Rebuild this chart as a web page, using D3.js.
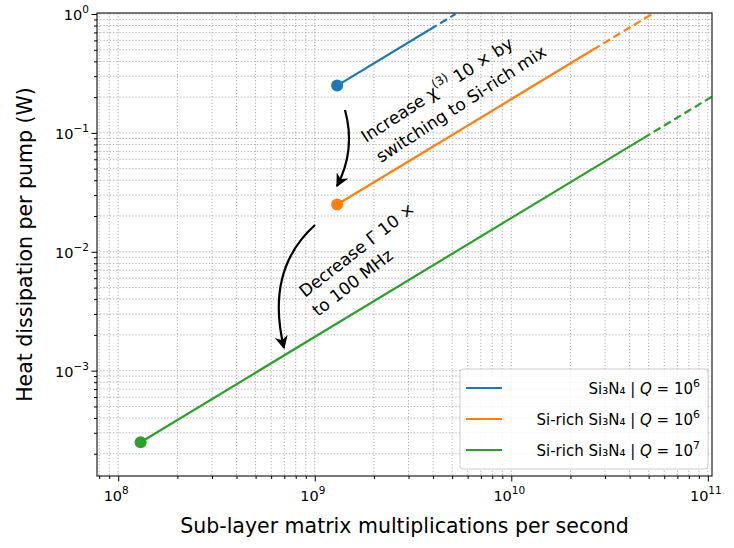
<!DOCTYPE html>
<html><head><meta charset="utf-8">
<script src="https://cdn.jsdelivr.net/npm/d3@7"></script>
<style>body{margin:0;background:#fff}text{font-family:"DejaVu Sans",sans-serif}</style>
</head><body><svg id="c" width="734" height="548"></svg>
<script>
const seriesNames=["Si₃N₄ | ","Si-rich Si₃N₄ | ","Si-rich Si₃N₄ | "];
const qExp=["6","6","7"];
const colors=["#1f77b4","#ff7f0e","#2ca02c"];
const startX=[1.3e9,1.3e9,1.3e8];
const startY=[0.25,0.025,0.00025];
const solidEndX=[3.85e9,2.6e10,4.7e10];
const endX=[5.2e9,5.2e10,1.05e11];
const xTicks=[1e8,1e9,1e10,1e11], xTickExp=["8","9","10","11"];
const yTicks=[1e-3,1e-2,1e-1,1], yTickLab=["10","10","10","10"], yTickExp=["−3","−2","−1","0"];

const svg=d3.select("#c");
const L=97,R=712,T=13,B=476;
const x=d3.scaleLog().domain([7.8e7,1.05e11]).range([L,R]);
const y=d3.scaleLog().domain([1.3e-4,1.02]).range([B,T]);
svg.append("clipPath").attr("id","cp").append("rect").attr("x",L).attr("y",T).attr("width",R-L).attr("height",B-T);
const g=svg.append("g").attr("clip-path","url(#cp)");
const xm=[];for(let e=7;e<=11;e++)for(let k=1;k<10;k++)xm.push(k*10**e);
const ym=[];for(let e=-4;e<=0;e++)for(let k=1;k<10;k++)ym.push(k*10**e);
g.selectAll(".gx").data(xm).join("line").attr("x1",d=>x(d)).attr("x2",d=>x(d)).attr("y1",T).attr("y2",B)
 .attr("stroke","#a8a8a8").attr("stroke-width",1).attr("stroke-dasharray","1.2,2");
g.selectAll(".gy").data(ym).join("line").attr("y1",d=>y(d)).attr("y2",d=>y(d)).attr("x1",L).attr("x2",R)
 .attr("stroke","#a8a8a8").attr("stroke-width",1).attr("stroke-dasharray","1.2,2");
const line=d3.line().x(d=>x(d[0])).y(d=>y(d[1]));
colors.forEach((c,i)=>{
  const f=v=>startY[i]*v/startX[i];
  g.append("path").attr("d",line([[startX[i],startY[i]],[solidEndX[i],f(solidEndX[i])]])).attr("stroke",c).attr("stroke-width",2.2).attr("fill","none");
  g.append("path").attr("d",line([[solidEndX[i],f(solidEndX[i])],[endX[i],f(endX[i])]])).attr("stroke",c).attr("stroke-width",2.2).attr("fill","none").attr("stroke-dasharray","8,4");
  svg.append("circle").attr("cx",x(startX[i])).attr("cy",y(startY[i])).attr("r",6).attr("fill",c);
});
svg.append("rect").attr("x",L).attr("y",T).attr("width",R-L).attr("height",B-T).attr("fill","none").attr("stroke","#222").attr("stroke-width",1.2);
const xa=svg.append("g").attr("transform",`translate(0,${B})`).call(d3.axisBottom(x).tickValues(xm.filter(d=>d>=7.8e7&&d<=1.05e11)).tickFormat("").tickSizeInner(3).tickSizeOuter(0));
xa.selectAll(".tick line").filter(d=>xTicks.includes(d)).attr("y2",5.5);
xa.select(".domain").remove();
const ya=svg.append("g").attr("transform",`translate(${L},0)`).call(d3.axisLeft(y).tickValues(ym.filter(d=>d>=1.3e-4&&d<=1.02)).tickFormat("").tickSizeInner(3).tickSizeOuter(0));
ya.selectAll(".tick line").filter(d=>yTicks.includes(d)).attr("x2",-5.5);
ya.select(".domain").remove();
xTicks.forEach((v,i)=>{const t=svg.append("text").attr("x",x(v)-2).attr("y",B+25).attr("text-anchor","middle").attr("font-size",14.5);
 t.append("tspan").text("10");t.append("tspan").attr("dy",-7).attr("font-size",10.5).text(xTickExp[i]);});
yTicks.forEach((v,i)=>{const t=svg.append("text").attr("x",L-8).attr("y",y(v)+6).attr("text-anchor","end").attr("font-size",14.5);
 t.append("tspan").text(yTickLab[i]);t.append("tspan").attr("dy",-7).attr("font-size",10.5).text(yTickExp[i]);});
svg.append("text").attr("x",(L+R)/2).attr("y",533).attr("text-anchor","middle").attr("font-size",20.5).text("Sub-layer matrix multiplications per second");
svg.append("text").attr("transform",`translate(32,${(T+B)/2}) rotate(-90)`).attr("text-anchor","middle").attr("font-size",20.5).text("Heat dissipation per pump (W)");
const a1=svg.append("text").attr("transform","translate(366,143) rotate(-33)").attr("font-size",17);
a1.append("tspan").text("Increase χ");a1.append("tspan").attr("dy",-8).attr("font-size",12).text("(3)");a1.append("tspan").attr("dy",8).text(" 10 × by");
svg.append("text").attr("transform","translate(381,163) rotate(-33)").attr("font-size",17).text("switching to Si-rich mix");
svg.append("text").attr("transform","translate(305,298) rotate(-38)").attr("font-size",17).text("Decrease Γ 10 ×");
svg.append("text").attr("transform","translate(318,317) rotate(-38)").attr("font-size",17).text("to 100 MHz");
svg.append("defs").append("marker").attr("id","ah").attr("viewBox","0 0 10 10").attr("refX",9).attr("refY",5).attr("markerWidth",6).attr("markerHeight",6).attr("orient","auto")
 .append("path").attr("d","M0,0 L10,5 L0,10 L3,5 Z").attr("fill","#000");
svg.append("path").attr("d","M345,110 Q356,150 337,186").attr("fill","none").attr("stroke","#000").attr("stroke-width",2.2).attr("marker-end","url(#ah)");
svg.append("path").attr("d","M315,225 Q265,270 284,348").attr("fill","none").attr("stroke","#000").attr("stroke-width",2.2).attr("marker-end","url(#ah)");
const lg=svg.append("g");
lg.append("rect").attr("x",460).attr("y",369).attr("width",248).attr("height",100).attr("rx",3).attr("fill","#fff").attr("fill-opacity",0.85).attr("stroke","#ccc");
colors.forEach((c,i)=>{const yy=388+i*31;
 lg.append("line").attr("x1",466).attr("x2",502).attr("y1",yy).attr("y2",yy).attr("stroke",c).attr("stroke-width",2.2);
 const t=lg.append("text").attr("x",700).attr("y",yy+6).attr("text-anchor","end").attr("font-size",15);
 t.append("tspan").text(seriesNames[i]);t.append("tspan").attr("font-style","italic").text("Q");t.append("tspan").text(" = 10");
 t.append("tspan").attr("dy",-7).attr("font-size",11).text(qExp[i]);});
</script></body></html>
